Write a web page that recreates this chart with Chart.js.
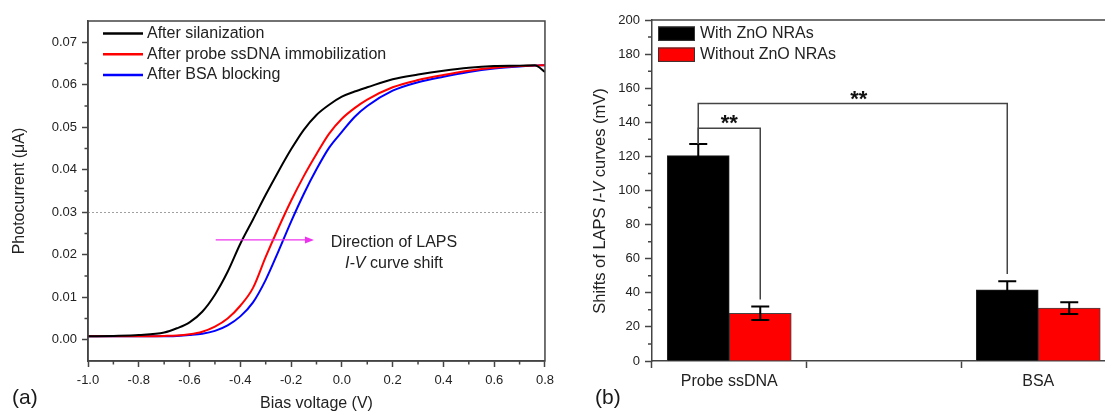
<!DOCTYPE html>
<html><head><meta charset="utf-8">
<script src="https://cdn.jsdelivr.net/npm/chart.js@4.4.1/dist/chart.umd.min.js"></script>
<style>
html,body{margin:0;padding:0;background:#fff;overflow:hidden;width:1105px;height:413px}
#wa{position:absolute;left:0;top:0;width:560px;height:413px}
#wb{position:absolute;left:560px;top:0;width:545px;height:413px}
</style></head><body>
<div id="wa"><canvas id="ca"></canvas></div>
<div id="wb"><canvas id="cb"></canvas></div>
<script>
// ---------- Panel (a) data ----------
const biasV = [-1.0,-0.9,-0.8,-0.7,-0.65,-0.6,-0.55,-0.5,-0.45,-0.4,-0.35,-0.3,-0.25,-0.2,-0.15,-0.1,-0.05,0,0.05,0.1,0.2,0.3,0.4,0.5,0.6,0.7,0.76,0.8];
const afterSilanization = [.0008,.0009,.0011,.0017,.0027,.0041,.0066,.0106,.0160,.0226,.0283,.0341,.0396,.0448,.0494,.0529,.0553,.0572,.0584,.0594,.0613,.0624,.0633,.0640,.0644,.0645,.0646,.0630];
const afterProbe = [.0008,.0008,.0008,.0009,.0010,.0013,.0019,.0031,.0050,.0080,.0122,.0195,.0263,.0327,.0385,.0437,.0485,.0520,.0545,.0565,.0594,.0611,.0623,.0633,.0640,.0644,.0645,.0646];
const afterBSA = [.0008,.0008,.0008,.0008,.0009,.0011,.0014,.0021,.0034,.0055,.0088,.0141,.0208,.0278,.0343,.0401,.0452,.0489,.0524,.0550,.0586,.0606,.0619,.0630,.0638,.0643,.0645,.0646];
const seriesNamesA = ['After silanization','After probe ssDNA immobilization','After BSA blocking'];
const xTicksA = [-1.0,-0.8,-0.6,-0.4,-0.2,0.0,0.2,0.4,0.6,0.8];
const yTicksA = [0,0.01,0.02,0.03,0.04,0.05,0.06,0.07];
const refLevel = 0.03;
const arrowFrom = [-0.497, 0.0235];
const arrowTo = [-0.11, 0.0235];

// ---------- Panel (b) data ----------
const categories = ['Probe ssDNA','BSA'];
const withZnO = [120.5, 41.7];
const withZnOErr = [6.7, 5.1];
const withoutZnO = [28, 31];
const withoutZnOErr = [4, 3.5];
const seriesNamesB = ['With ZnO NRAs','Without ZnO NRAs'];
const yTicksB = [0,20,40,60,80,100,120,140,160,180,200];
const xTicksB = [1,1.5,2];
const sigLevels = [136.5, 151];
const sigLegEnds = [36, 51];

const FONT = "'Liberation Sans', Arial, sans-serif";
Chart.defaults.font.family = FONT;
Chart.defaults.color = '#222';
const AX = '#444';

function drawMixed(ctx, parts, cx, cy, size) {
  let total = 0;
  const w = parts.map(p => { ctx.font = (p.it ? 'italic ' : '') + size + 'px ' + FONT; const m = ctx.measureText(p.t).width; total += m; return m; });
  let x = cx - total / 2;
  ctx.textAlign = 'left'; ctx.textBaseline = 'middle';
  parts.forEach((p, i) => { ctx.font = (p.it ? 'italic ' : '') + size + 'px ' + FONT; ctx.fillText(p.t, x, cy); x += w[i]; });
}

// ---------- Chart (a) ----------
const decoA = {
  id: 'decoA',
  beforeDatasetsDraw(chart) {
    const {ctx, chartArea: a, scales: {y}} = chart;
    ctx.save();
    ctx.strokeStyle = '#a0a0a0'; ctx.lineWidth = 1; ctx.setLineDash([2, 2]);
    const yy = Math.round(y.getPixelForValue(refLevel)) + 0.5;
    ctx.beginPath(); ctx.moveTo(a.left, yy); ctx.lineTo(a.right, yy); ctx.stroke();
    ctx.restore();
  },
  afterDraw(chart) {
    const {ctx, chartArea: a, scales: {x, y}} = chart;
    ctx.save();
    ctx.strokeStyle = AX; ctx.lineWidth = 1.5;
    ctx.strokeRect(a.left, a.top, a.right - a.left, a.bottom - a.top);
    ctx.beginPath();
    for (let i = 0; i < xTicksA.length - 1; i++) {
      const px = x.getPixelForValue((xTicksA[i] + xTicksA[i + 1]) / 2);
      ctx.moveTo(px, a.bottom); ctx.lineTo(px, a.bottom + 3.5);
    }
    for (let i = 0; i < yTicksA.length; i++) {
      const v = yTicksA[i] + 0.005;
      if (v < y.max) { const py = y.getPixelForValue(v); ctx.moveTo(a.left, py); ctx.lineTo(a.left - 3.5, py); }
    }
    ctx.stroke();
    const x0 = x.getPixelForValue(arrowFrom[0]), x1 = x.getPixelForValue(arrowTo[0]);
    const ay = y.getPixelForValue(arrowFrom[1]);
    ctx.strokeStyle = '#ee33ee'; ctx.fillStyle = '#ee33ee'; ctx.lineWidth = 1.2;
    ctx.beginPath(); ctx.moveTo(x0, ay); ctx.lineTo(x1 - 6, ay); ctx.stroke();
    ctx.beginPath(); ctx.moveTo(x1, ay); ctx.lineTo(x1 - 9, ay - 3.5); ctx.lineTo(x1 - 9, ay + 3.5); ctx.closePath(); ctx.fill();
    ctx.fillStyle = '#222';
    drawMixed(ctx, [{t: 'Direction of LAPS'}], 394, 243, 16);
    drawMixed(ctx, [{t: 'I-V', it: true}, {t: ' curve shift'}], 394, 264, 16);
    const rows = [33.5, 54.3, 75];
    chart.data.datasets.forEach((d, i) => {
      ctx.strokeStyle = d.borderColor; ctx.lineWidth = 2.5;
      ctx.beginPath(); ctx.moveTo(103, rows[i]); ctx.lineTo(143, rows[i]); ctx.stroke();
      ctx.fillStyle = '#222'; ctx.font = '16px ' + FONT; ctx.textAlign = 'left'; ctx.textBaseline = 'middle';
      ctx.fillText(d.label, 147, rows[i]);
    });
    ctx.fillStyle = '#1a1a1a'; ctx.font = '21px ' + FONT; ctx.textBaseline = 'middle'; ctx.textAlign = 'left';
    ctx.fillText('(a)', 12, 398);
    ctx.restore();
  }
};

const colorsA = ['#000000', '#ff0000', '#0000ff'];
const curvesA = [afterSilanization, afterProbe, afterBSA];
new Chart(document.getElementById('ca'), {
  type: 'line',
  data: {
    datasets: curvesA.map((c, i) => ({
      label: seriesNamesA[i],
      data: biasV.map((v, k) => ({x: v, y: c[k]})),
      borderColor: colorsA[i], borderWidth: 2, pointRadius: 0,
      cubicInterpolationMode: 'monotone', fill: false
    }))
  },
  options: {
    responsive: true, maintainAspectRatio: false, animation: false, devicePixelRatio: 1,
    layout: {padding: {left: 0, top: 21, right: 11, bottom: 0}},
    plugins: {legend: {display: false}, tooltip: {enabled: false}},
    events: [],
    scales: {
      x: {
        type: 'linear', min: -1.0, max: 0.8,
        afterBuildTicks: s => { s.ticks = xTicksA.map(v => ({value: v})); },
        afterFit: s => { s.height = 52; },
        ticks: {callback: v => Number(v).toFixed(1), font: {size: 13}, color: '#222', padding: 6, maxRotation: 0, autoSkip: false},
        grid: {drawOnChartArea: false, drawTicks: true, tickLength: 6, tickColor: AX, tickWidth: 1.5},
        border: {display: true, color: AX, width: 1.5},
        title: {display: true, text: 'Bias voltage (V)', font: {size: 16}, color: '#222', padding: {top: 0, bottom: 0}}
      },
      y: {
        type: 'linear', min: -0.005, max: 0.075,
        afterBuildTicks: s => { s.ticks = yTicksA.map(v => ({value: v})); },
        afterFit: s => { s.width = 88; },
        ticks: {callback: v => Number(v).toFixed(2), font: {size: 13}, color: '#222', padding: 5},
        grid: {drawOnChartArea: false, drawTicks: true, tickLength: 6, tickColor: AX, tickWidth: 1.5},
        border: {display: true, color: AX, width: 1.5},
        title: {display: true, text: 'Photocurrent (\u03BCA)', font: {size: 16}, color: '#222', padding: {top: 10, bottom: 0}}
      }
    }
  },
  plugins: [decoA]
});

// ---------- Chart (b) ----------
const errsB = [withZnOErr, withoutZnOErr];
const valsB = [withZnO, withoutZnO];
const decoB = {
  id: 'decoB',
  afterDraw(chart) {
    const {ctx, chartArea: a, scales: {x, y}} = chart;
    ctx.save();
    ctx.strokeStyle = AX; ctx.lineWidth = 1.5;
    ctx.beginPath(); ctx.moveTo(a.left, a.top); ctx.lineTo(a.right, a.top); ctx.stroke();
    ctx.beginPath();
    for (let i = 0; i < yTicksB.length - 1; i++) {
      const py = y.getPixelForValue((yTicksB[i] + yTicksB[i + 1]) / 2);
      ctx.moveTo(a.left, py); ctx.lineTo(a.left - 4, py);
    }
    ctx.stroke();
    ctx.strokeStyle = '#000'; ctx.lineWidth = 2;
    for (let d = 0; d < 2; d++) {
      const meta = chart.getDatasetMeta(d);
      meta.data.forEach((bar, j) => {
        const t = y.getPixelForValue(valsB[d][j] + errsB[d][j]);
        const b = y.getPixelForValue(valsB[d][j] - errsB[d][j]);
        ctx.beginPath();
        ctx.moveTo(bar.x, t); ctx.lineTo(bar.x, b);
        ctx.moveTo(bar.x - 9, t); ctx.lineTo(bar.x + 9, t);
        ctx.moveTo(bar.x - 9, b); ctx.lineTo(bar.x + 9, b);
        ctx.stroke();
      });
    }
    const m0 = chart.getDatasetMeta(0), m1 = chart.getDatasetMeta(1);
    const pairs = [[m0.data[0], m1.data[0]], [m0.data[0], m0.data[1]]];
    ctx.strokeStyle = AX; ctx.lineWidth = 1.5;
    pairs.forEach((p, k) => {
      const ly = y.getPixelForValue(sigLevels[k]);
      const startTop = y.getPixelForValue(withZnO[0] + withZnOErr[0]);
      const legEnd = y.getPixelForValue(sigLegEnds[k]);
      ctx.beginPath();
      ctx.moveTo(p[0].x, startTop); ctx.lineTo(p[0].x, ly);
      ctx.lineTo(p[1].x, ly); ctx.lineTo(p[1].x, legEnd);
      ctx.stroke();
      ctx.fillStyle = '#111'; ctx.font = 'bold 22px ' + FONT; ctx.textAlign = 'center'; ctx.textBaseline = 'alphabetic';
      const mt = ctx.measureText('**');
      const cy = ly - 8.5;
      ctx.fillText('**', (p[0].x + p[1].x) / 2 + (k === 1 ? 6 : 0), cy + (mt.actualBoundingBoxAscent - mt.actualBoundingBoxDescent) / 2);
    });
    const rows = [33.7, 54.7];
    chart.data.datasets.forEach((d, i) => {
      ctx.fillStyle = d.backgroundColor; ctx.strokeStyle = '#333'; ctx.lineWidth = 1;
      ctx.fillRect(98, rows[i] - 7.2, 37, 14.4);
      ctx.strokeRect(98.5, rows[i] - 6.7, 36, 13.4);
      ctx.fillStyle = '#222'; ctx.font = '16px ' + FONT; ctx.textAlign = 'left'; ctx.textBaseline = 'middle';
      ctx.fillText(d.label, 140, rows[i]);
    });
    ctx.translate(40, 201); ctx.rotate(-Math.PI / 2);
    ctx.fillStyle = '#222';
    drawMixed(ctx, [{t: 'Shifts of LAPS '}, {t: 'I-V', it: true}, {t: ' curves (mV)'}], 0, 0, 16.5);
    ctx.setTransform(1, 0, 0, 1, 0, 0);
    ctx.fillStyle = '#1a1a1a'; ctx.font = '21px ' + FONT; ctx.textBaseline = 'middle'; ctx.textAlign = 'left';
    ctx.fillText('(b)', 35, 398);
    ctx.restore();
  }
};

new Chart(document.getElementById('cb'), {
  type: 'bar',
  data: {
    datasets: [
      {label: seriesNamesB[0], data: categories.map((c, i) => ({x: i + 1, y: withZnO[i]})),
       backgroundColor: '#000000', borderColor: '#222', borderWidth: 1, barThickness: 62},
      {label: seriesNamesB[1], data: categories.map((c, i) => ({x: i + 1, y: withoutZnO[i]})),
       backgroundColor: '#ff0000', borderColor: '#444', borderWidth: 1, barThickness: 62}
    ]
  },
  options: {
    responsive: true, maintainAspectRatio: false, animation: false, devicePixelRatio: 1,
    layout: {padding: {left: 0, top: 20, right: 0, bottom: 0}},
    plugins: {legend: {display: false}, tooltip: {enabled: false}},
    events: [],
    scales: {
      x: {
        type: 'linear', min: 0.75, max: 2.216, offset: false,
        afterBuildTicks: s => { s.ticks = xTicksB.map(v => ({value: v})); },
        afterFit: s => { s.height = 52; },
        ticks: {callback: v => (Number.isInteger(v) ? categories[v - 1] : ''), font: {size: 16}, color: '#222', padding: 4, maxRotation: 0, autoSkip: false},
        grid: {drawOnChartArea: false, drawTicks: true, tickLength: 7, tickColor: AX, tickWidth: 1.5},
        border: {display: true, color: AX, width: 1.5}
      },
      y: {
        type: 'linear', min: 0, max: 200,
        afterBuildTicks: s => { s.ticks = yTicksB.map(v => ({value: v})); },
        afterFit: s => { s.width = 92; },
        ticks: {font: {size: 13}, color: '#222', padding: 5},
        grid: {drawOnChartArea: false, drawTicks: true, tickLength: 7, tickColor: AX, tickWidth: 1.5},
        border: {display: true, color: AX, width: 1.5}
      }
    }
  },
  plugins: [decoB]
});
</script>
</body></html>
